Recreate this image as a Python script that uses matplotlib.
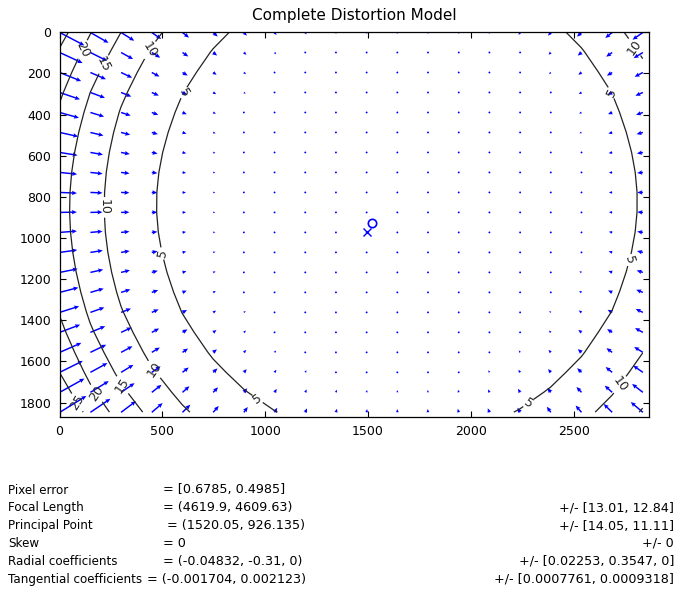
import numpy as np
import matplotlib
matplotlib.use("Agg")
import matplotlib.pyplot as plt

# ---- calibration results -------------------------------------------------
image_size = [2984, 1944]                 # nx, ny (pixels)
focal_length = [4619.9, 4609.63]
focal_length_err = [13.01, 12.84]
principal_point = [1520.05, 926.135]
principal_point_err = [14.05, 11.11]
skew = 0.0
skew_err = 0.0
radial_coeffs = [-0.04832, -0.31, 0.0]
radial_coeffs_err = [0.02253, 0.3547, 0.0]
tangential_coeffs = [-0.001704, 0.002123]
tangential_coeffs_err = [0.0007761, 0.0009318]
pixel_error = [0.6785, 0.4985]

contour_levels = [5, 10, 15, 20, 25]
x_ticks = [0, 500, 1000, 1500, 2000, 2500]
y_ticks = [0, 200, 400, 600, 800, 1000, 1200, 1400, 1600, 1800]
x_limits = [0, 2867]
y_limits = [0, 1869]


def apply_distortion(x, y, k, p):
    r2 = x * x + y * y
    radial = 1 + k[0] * r2 + k[1] * r2 ** 2 + k[2] * r2 ** 3
    dxt = 2 * p[0] * x * y + p[1] * (r2 + 2 * x * x)
    dyt = p[0] * (r2 + 2 * y * y) + 2 * p[1] * x * y
    return x * radial + dxt, y * radial + dyt


nx, ny = image_size
mx, my = np.meshgrid(np.arange(0, nx - 1, nx / 20), np.arange(0, ny - 1, ny / 20))
fc, cc = focal_length, principal_point
xn = (mx - cc[0]) / fc[0] - skew * (my - cc[1]) / fc[1]
yn = (my - cc[1]) / fc[1]
xd, yd = apply_distortion(xn, yn, radial_coeffs, tangential_coeffs)
px2 = fc[0] * (xd + skew * yd) + cc[0]
py2 = fc[1] * yd + cc[1]
dx = px2 - mx
dy = py2 - my
dr = np.hypot(dx, dy)

# arrow autoscale: longest arrow = 0.9 of the mean grid step
n = np.sqrt(mx.size)
delx = (mx.max() - mx.min()) / n
dely = (my.max() - my.min()) / n
maxlen = np.max(np.sqrt((dx ** 2 + dy ** 2) / (delx ** 2 + dely ** 2)))
autoscale = 0.9 / maxlen

W, H = 678, 600
fig = plt.figure(figsize=(W / 100, H / 100), dpi=100)
fig.patch.set_facecolor("white")
ax = fig.add_axes([59.5 / W, 1 - 416.7 / H, 589.8 / W, 384.4 / H])

ax.quiver(mx + 1, my + 1, dx, dy, color="#0000ff", angles="xy",
          scale_units="xy", scale=1 / autoscale, width=0.0025,
          headwidth=3.0, headlength=3.4, headaxislength=3.0, minlength=1.4)
ax.plot(cc[0] + 1, cc[1] + 1, "o", mfc="none", mec="#0000ff", ms=6, mew=1.2)
ax.plot((nx - 1) / 2 + 1, (ny - 1) / 2 + 1, "x", color="#0000ff", ms=6, mew=1.0)

cs = ax.contour(mx, my, dr, levels=contour_levels, colors="#222222", linewidths=0.9)
label_spots = [(90, 72), (194, 146), (440, 87), (583, 282), (206, 851),
               (505, 1074), (455, 1643), (318, 1706), (180, 1755), (85, 1800),
               (958, 1790), (2822, 53), (2690, 290), (2773, 1108),
               (2270, 1789), (2740, 1725)]
ax.clabel(cs, inline=True, fmt="%g", fontsize=9, inline_spacing=2,
          manual=label_spots)

ax.set_xlim(x_limits)
ax.set_ylim(y_limits[1], y_limits[0])
ax.set_xticks(x_ticks)
ax.set_yticks(y_ticks)
ax.tick_params(direction="in", length=4, width=0.8, top=True, right=True,
               labelsize=9, pad=6)
for s in ax.spines.values():
    s.set_linewidth(0.9)
ax.set_title("Complete Distortion Model", fontsize=11, pad=9)


def fmt(vals, br="()"):
    return br[0] + ", ".join("%.6g" % v for v in vals) + br[1]


labels = ["Pixel error", "Focal Length", "Principal Point", "Skew",
          "Radial coefficients", "Tangential coefficients"]
values = ["= " + fmt(pixel_error, "[]"),
          "= " + fmt(focal_length),
          "= " + fmt(principal_point),
          "= %g" % skew,
          "= " + fmt(radial_coeffs),
          "= " + fmt(tangential_coeffs)]
errors = ["",
          "+/- " + fmt(focal_length_err, "[]"),
          "+/- " + fmt(principal_point_err, "[]"),
          "+/- %g" % skew_err,
          "+/- " + fmt(radial_coeffs_err, "[]"),
          "+/- " + fmt(tangential_coeffs_err, "[]")]
value_x = [163, 163, 167, 163, 163, 147]
row_y = [490, 507.8, 525.6, 543.4, 561.2, 579]

for lab, val, err, vx, yy in zip(labels, values, errors, value_x, row_y):
    fy = 1 - yy / H
    fig.text(8 / W, fy, lab, fontsize=8.6, va="center", ha="left")
    fig.text(vx / W, fy, val, fontsize=9.2, va="center", ha="left")
    if err:
        fig.text(674 / W, fy, err, fontsize=9.2, va="center", ha="right")

fig.savefig("out.png", dpi=100, facecolor="white")
